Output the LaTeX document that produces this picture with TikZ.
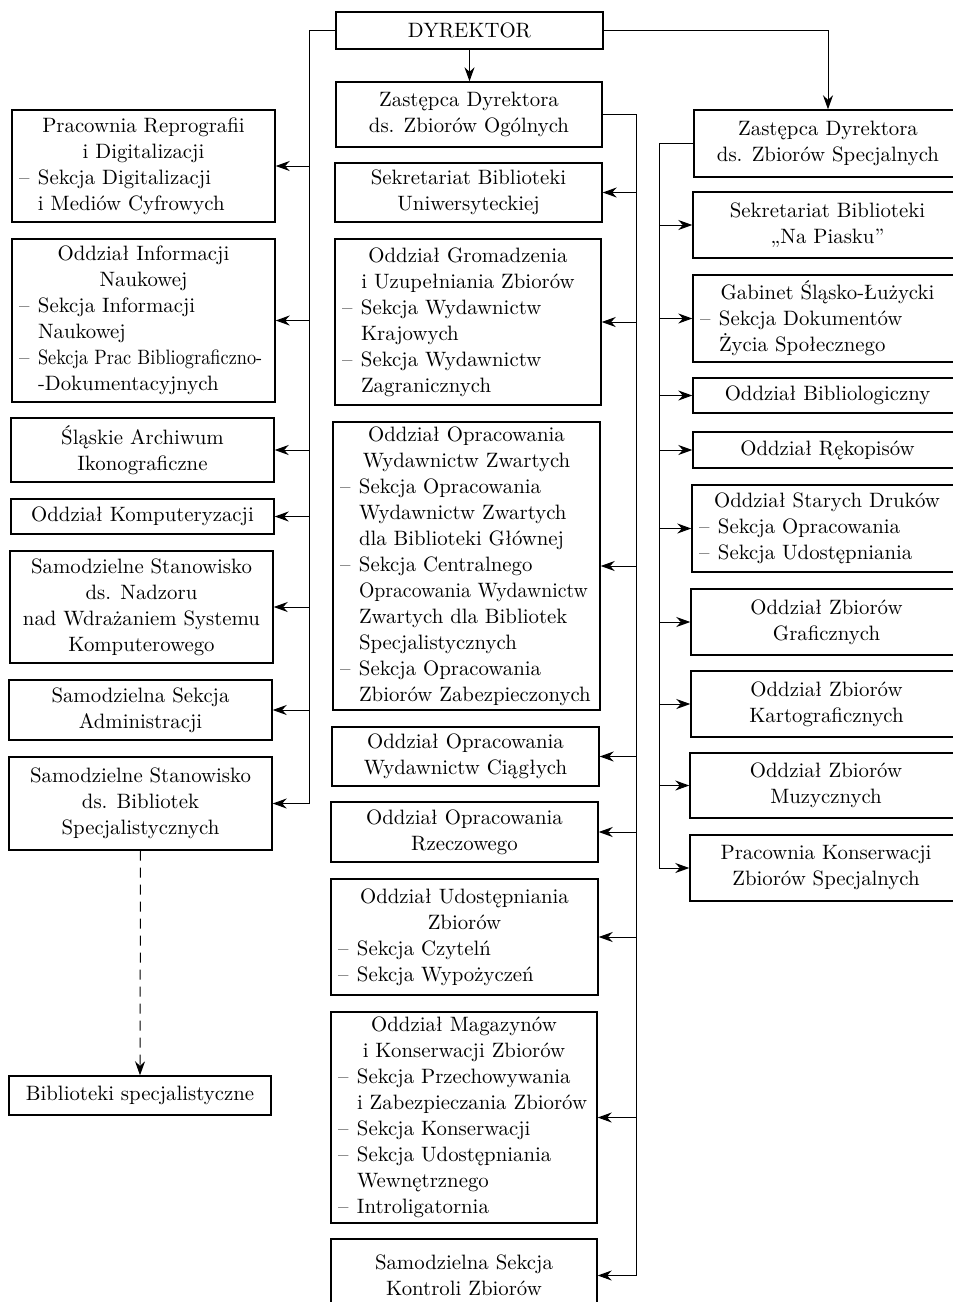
\documentclass[tikz,border=0pt]{standalone}
\usepackage{fontspec}
\usepackage{graphicx}
\usetikzlibrary{arrows.meta}
\newcommand\hdl[1]{\centerline{#1}}
\newcommand\itm[1]{\hbox to\hsize{\hbox to 9.5pt{–\hfil}#1\hss}}
\newcommand\itc[1]{\hbox to\hsize{\hspace{9.5pt}#1\hss}}
\newcommand\bx[6]{\node[box, minimum width={(#4-#2)*0.5pt}, minimum height={(#5-#3)*0.5pt}] (#1) at ({(#2+#4)/2},{(#3+#5)/2}) {\parbox{\dimexpr(#4pt-#2pt)/2-7pt\relax}{#6}};}
\tikzset{
  box/.style={draw, line width=0.7pt, inner xsep=3.5pt, inner ysep=0pt, font=\fontsize{10.4}{13}\selectfont},
  conn/.style={line width=0.5pt},
  arr/.style={conn, -{Stealth[length=7pt,width=5pt]}}
}
\begin{document}
\begin{tikzpicture}[x=0.5pt,y=-0.5pt]
\useasboundingbox (0,0) rectangle (953,1302);
\clip (0,0) rectangle (953,1302);
% center column
\bx{dyr}{336}{12}{603}{49}{\hdl{DYREKTOR}}
\bx{zo}{336}{82}{602}{147}{\hdl{Zastępca Dyrektora}\hdl{ds. Zbiorów Ogólnych}}
\bx{c1}{335}{163}{602}{222}{\hdl{Sekretariat Biblioteki}\hdl{Uniwersyteckiej}}
\bx{c2}{335}{239}{601}{405}{\hdl{Oddział Gromadzenia}\hdl{i Uzupełniania Zbiorów}\itm{Sekcja Wydawnictw}\itc{Krajowych}\itm{Sekcja Wydawnictw}\itc{Zagranicznych}}
\bx{c3}{333}{422}{600}{710}{\hdl{Oddział Opracowania}\hdl{Wydawnictw Zwartych}\itm{Sekcja Opracowania}\itc{Wydawnictw Zwartych}\itc{dla Biblioteki Głównej}\itm{Sekcja Centralnego}\itc{\scalebox{0.95}[1]{Opracowania Wydawnictw}}\itc{Zwartych dla Bibliotek}\itc{Specjalistycznych}\itm{Sekcja Opracowania}\itc{Zbiorów Zabezpieczonych}}
\bx{c4}{332}{727}{599}{786}{\hdl{Oddział Opracowania}\hdl{Wydawnictw Ciągłych}}
\bx{c5}{331}{802}{598}{862}{\hdl{Oddział Opracowania}\hdl{Rzeczowego}}
\bx{c6}{331}{879}{598}{995}{\hdl{Oddział Udostępniania}\hdl{Zbiorów}\itm{Sekcja Czytelń}\itm{Sekcja Wypożyczeń}}
\bx{c7}{331}{1012}{597}{1223}{\hdl{Oddział Magazynów}\hdl{i Konserwacji Zbiorów}\itm{Sekcja Przechowywania}\itc{i Zabezpieczania Zbiorów}\itm{Sekcja Konserwacji}\itm{Sekcja Udostępniania}\itc{Wewnętrznego}\itm{Introligatornia}}
\bx{c8}{331}{1239}{597}{1312}{\hdl{Samodzielna Sekcja}\hdl{Kontroli Zbiorów}}
% left column
\bx{l1}{12}{110}{275}{222}{\hdl{Pracownia Reprografii}\hdl{i Digitalizacji}\itm{Sekcja Digitalizacji}\itc{i Mediów Cyfrowych}}
\bx{l2}{12}{239}{275}{402}{\hdl{Oddział Informacji}\hdl{Naukowej}\itm{Sekcja Informacji}\itc{Naukowej}\itm{\scalebox{0.88}[1]{Sekcja Prac Bibliograficzno-}}\itc{-Dokumentacyjnych}}
\bx{l3}{11}{418}{274}{482}{\hdl{Śląskie Archiwum}\hdl{Ikonograficzne}}
\bx{l4}{11}{499}{274}{534}{\hdl{Oddział Komputeryzacji}}
\bx{l5}{10}{551}{273}{663}{\hdl{Samodzielne Stanowisko}\hdl{ds. Nadzoru}\hdl{nad Wdrażaniem Systemu}\hdl{Komputerowego}}
\bx{l6}{9}{680}{272}{740}{\hdl{Samodzielna Sekcja}\hdl{Administracji}}
\bx{l7}{9}{757}{272}{850}{\hdl{Samodzielne Stanowisko}\hdl{ds. Bibliotek}\hdl{Specjalistycznych}}
\bx{bib}{9}{1076}{271}{1115}{\hdl{Biblioteki specjalistyczne}}
% right column
\bx{zs}{694}{110}{962}{177}{\hdl{Zastępca Dyrektora}\hdl{ds. Zbiorów Specjalnych}}
\bx{r1}{693}{192}{962}{258}{\hdl{Sekretariat Biblioteki}\hdl{„Na Piasku”}}
\bx{r2}{693}{275}{962}{362}{\hdl{Gabinet Śląsko-Łużycki}\itm{Sekcja Dokumentów}\itc{Życia Społecznego}}
\bx{r3}{693}{378}{962}{413}{\hdl{Oddział Bibliologiczny}}
\bx{r4}{693}{432}{962}{468}{\hdl{Oddział Rękopisów}}
\bx{r5}{692}{485}{962}{572}{\hdl{Oddział Starych Druków}\itm{Sekcja Opracowania}\itm{Sekcja Udostępniania}}
\bx{r6}{691}{589}{962}{655}{\hdl{Oddział Zbiorów}\hdl{Graficznych}}
\bx{r7}{691}{671}{962}{737}{\hdl{Oddział Zbiorów}\hdl{Kartograficznych}}
\bx{r8}{690}{753}{962}{818}{\hdl{Oddział Zbiorów}\hdl{Muzycznych}}
\bx{r9}{690}{835}{962}{901}{\hdl{Pracownia Konserwacji}\hdl{Zbiorów Specjalnych}}
% connectors
\coordinate (lt) at (309,0);
\coordinate (ct) at (636,0);
\coordinate (rt) at (659,0);
\draw[arr] (dyr.south) -- (dyr.south |- zo.north);
\draw[arr] (dyr.east) -| (zs.north);
\draw[conn] (dyr.west) -| (lt |- l7.east);
\foreach \n in {l1,l2,l3,l4,l5,l6,l7} \draw[arr] (lt |- \n.east) -- (\n.east);
\draw[conn] (zo.east) -| (ct |- c8.east);
\foreach \n in {c1,c2,c3,c4,c5,c6,c7,c8} \draw[arr] (ct |- \n.east) -- (\n.east);
\draw[conn] (zs.west) -| (rt |- r9.west);
\foreach \n in {r1,r2,r3,r4,r5,r6,r7,r8,r9} \draw[arr] (rt |- \n.west) -- (\n.west);
\draw[arr, dash pattern=on 5pt off 3.5pt] (l7.south) -- (bib.north);
\end{tikzpicture}
\end{document}
